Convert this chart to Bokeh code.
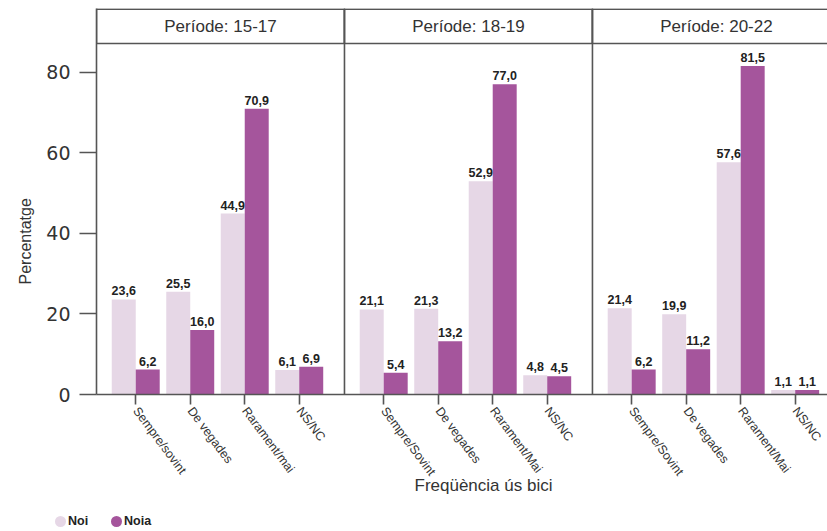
from bokeh.plotting import figure
from bokeh.layouts import column
from bokeh.models import (Range1d, FixedTicker, Span, Title, ColumnDataSource, Div)
from bokeh.core.properties import value
from bokeh.embed import file_html
from bokeh.resources import INLINE

# ---------------- data ----------------
periods = ["Període: 15-17", "Període: 18-19", "Període: 20-22"]
cats_15_17 = ["Sempre/sovint", "De vegades", "Rarament/mai", "NS/NC"]
cats_18_19 = ["Sempre/Sovint", "De vegades", "Rarament/Mai", "NS/NC"]
cats_20_22 = ["Sempre/Sovint", "De vegades", "Rarament/Mai", "NS/NC"]
noi_15_17 = [23.6, 25.5, 44.9, 6.1]
noia_15_17 = [6.2, 16.0, 70.9, 6.9]
noi_18_19 = [21.1, 21.3, 52.9, 4.8]
noia_18_19 = [5.4, 13.2, 77.0, 4.5]
noi_20_22 = [21.4, 19.9, 57.6, 1.1]
noia_20_22 = [6.2, 11.2, 81.5, 1.1]
y_ticks = [0, 20, 40, 60, 80]
series_names = ["Noi", "Noia"]

cats_all = [cats_15_17, cats_18_19, cats_20_22]
noi_all = [noi_15_17, noi_18_19, noi_20_22]
noia_all = [noia_15_17, noia_18_19, noia_20_22]

# ---------------- layout constants ----------------
PANEL_W = 4.55      # width of one facet in x units
PAD_L = 0.72        # gap from facet left edge to first category
BAR_W = 0.44
Y_END = 386 / 4.03
STRIP_BOT = 351 / 4.03
STRIP_TOP = Y_END - 0.15
C_NOI = "#e6d7e6"
C_NOIA = "#a5559c"
C_AX = "#555555"
C_TXT = "#333333"

ticks, tick_labels = [], {}
xs_noi, xs_noia, ys_noi, ys_noia, lab_noi, lab_noia = [], [], [], [], [], []
for p in range(3):
    for i, c in enumerate(cats_all[p]):
        t = round(p * PANEL_W + i, 2)
        ticks.append(t)
        tick_labels[t] = c
        xs_noi.append(t - BAR_W / 2)
        xs_noia.append(t + BAR_W / 2)
        ys_noi.append(noi_all[p][i])
        ys_noia.append(noia_all[p][i])
        lab_noi.append(f"{noi_all[p][i]:.1f}".replace(".", ","))
        lab_noia.append(f"{noia_all[p][i]:.1f}".replace(".", ","))

src_noi = ColumnDataSource(dict(x=xs_noi, y=ys_noi, lab=lab_noi))
src_noia = ColumnDataSource(dict(x=xs_noia, y=ys_noia, lab=lab_noia))

p = figure(width=827, height=505, output_backend="svg", toolbar_location=None,
           x_range=Range1d(-PAD_L, -PAD_L + 731 / 54.5),
           y_range=Range1d(0, Y_END),
           min_border_left=96, min_border_right=0, min_border_top=8,
           min_border_bottom=111)
p.outline_line_color = None
p.xgrid.visible = False
p.ygrid.visible = False
p.background_fill_color = "white"

# bars
p.vbar(x="x", top="y", width=BAR_W, source=src_noi, fill_color=C_NOI, line_color=None)
p.vbar(x="x", top="y", width=BAR_W, source=src_noia, fill_color=C_NOIA, line_color=None)

# value labels
for src in (src_noi, src_noia):
    p.text(x="x", y="y", text="lab", source=src, text_align="center",
           text_baseline="bottom", y_offset=-4, text_font=value("Liberation Sans"),
           text_font_size="12.5px", text_font_style="bold", text_color="#222222")

# facet strips
strip_left = [-PAD_L + k * PANEL_W for k in range(3)]
p.quad(left=strip_left, right=[l + PANEL_W for l in strip_left],
       bottom=[STRIP_BOT] * 3, top=[STRIP_TOP] * 3,
       fill_color="white", line_color=C_AX, line_width=1.6)
p.text(x=[l + PANEL_W / 2 for l in strip_left], y=[(STRIP_BOT + STRIP_TOP) / 2] * 3,
       text=periods, text_align="center", text_baseline="middle",
       text_font=value("Liberation Sans"), text_font_size="17px", text_color=C_TXT)

# separators
for k in (1, 2):
    p.add_layout(Span(location=strip_left[k], dimension="height",
                      line_color=C_AX, line_width=1.6))

# axes
p.yaxis.ticker = FixedTicker(ticks=y_ticks)
p.yaxis.axis_line_color = C_AX
p.yaxis.axis_line_width = 1.6
p.yaxis.major_tick_line_color = C_AX
p.yaxis.major_tick_line_width = 1.6
p.yaxis.major_tick_out = 17
p.yaxis.major_tick_in = 0
p.yaxis.minor_tick_line_color = None
p.yaxis.major_label_standoff = 9
p.yaxis.major_label_text_font = "DejaVu Sans"
p.yaxis.major_label_text_font_size = "19px"
p.yaxis.major_label_text_color = C_TXT

p.xaxis.ticker = FixedTicker(ticks=ticks)
p.xaxis.major_label_overrides = tick_labels
p.xaxis.axis_line_color = C_AX
p.xaxis.axis_line_width = 1.6
p.xaxis.major_tick_line_color = C_AX
p.xaxis.major_tick_line_width = 1.6
p.xaxis.major_tick_out = 10
p.xaxis.major_tick_in = 0
p.xaxis.minor_tick_line_color = None
p.xaxis.major_label_orientation = -0.93
p.xaxis.major_label_standoff = 4
p.xaxis.major_label_text_font = "Liberation Sans"
p.xaxis.major_label_text_font_size = "12.5px"
p.xaxis.major_label_text_color = C_TXT

# axis titles (align left + offset to place them like the reference)
p.add_layout(Title(text="Percentatge", align="left", offset=110, standoff=20,
                   text_font="Liberation Sans", text_font_size="16px",
                   text_font_style="normal", text_color=C_TXT), "left")
p.add_layout(Title(text="Freqüència ús bici", align="left", offset=318, standoff=-20,
                   vertical_align="top",
                   text_font="Liberation Sans", text_font_size="17px",
                   text_font_style="normal", text_color=C_TXT), "below")

# legend as a small HTML strip under the chart
LEG_H = 26
LEG_X0, LEG_DX, LEG_CY, DOT = 60, 56, 16, 11
colors = [C_NOI, C_NOIA]
items = ""
for k, name in enumerate(series_names):
    cx = LEG_X0 + k * LEG_DX
    items += (f'<span style="position:absolute;left:{cx - DOT / 2}px;top:{LEG_CY - DOT / 2}px;'
              f'width:{DOT}px;height:{DOT}px;border-radius:50%;background:{colors[k]};"></span>'
              f'<span style="position:absolute;left:{cx + 8}px;top:{LEG_CY - 8}px;'
              f'line-height:16px;">{name}</span>')
legend_div = Div(width=300, height=LEG_H, margin=0,
                 text=(f'<div style="position:relative;width:300px;height:{LEG_H}px;'
                       f'font-family:\'Liberation Sans\';font-size:12.5px;font-weight:bold;'
                       f'color:#222222;">{items}</div>'))

layout = column(p, legend_div, spacing=0)
open("out.html", "w").write(file_html(layout, INLINE))
